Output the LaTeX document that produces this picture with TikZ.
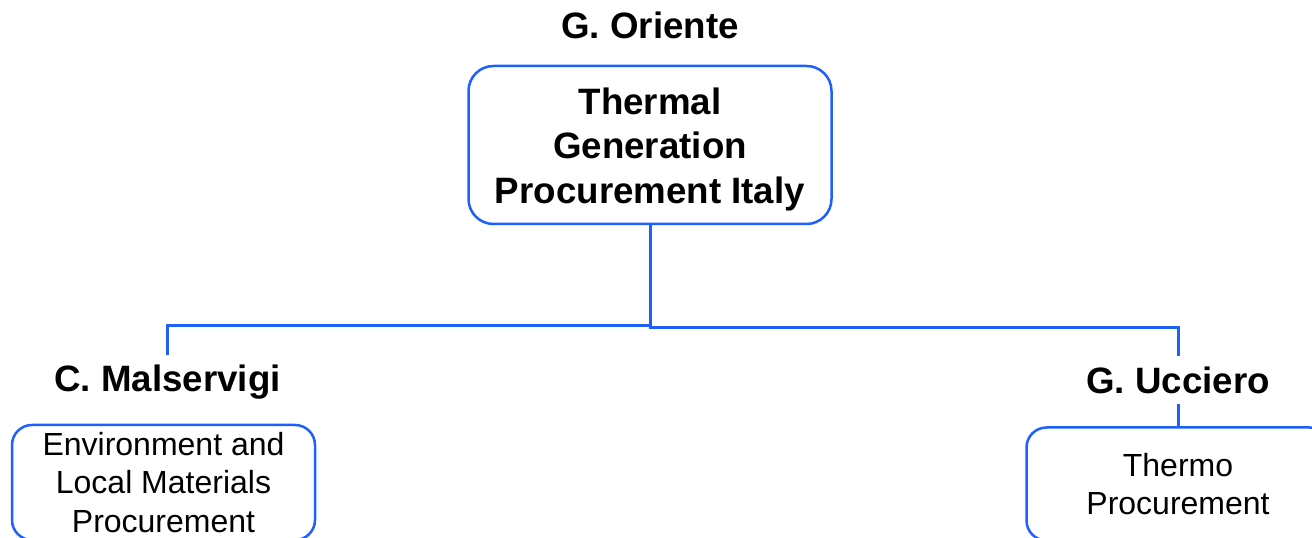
\documentclass[tikz,border=0pt]{standalone}
\usepackage{fontspec}
\setmainfont{Liberation Sans}
\definecolor{orgblue}{HTML}{1F5FFF}
\begin{document}
\begin{tikzpicture}[x=1pt, y=1pt,
    box/.style={draw=orgblue, line width=2.5pt, rounded corners=20pt, align=center, inner sep=0pt},
    person/.style={font=\fontsize{36.7}{44}\selectfont\bfseries, inner xsep=0pt, inner ysep=10pt},
    unit/.style={box, minimum width=303pt, font=\fontsize{32}{38.2}\selectfont},
    link/.style={draw=orgblue, line width=3pt}]
  \clip (0,0) rectangle (1312,538);
  \node (oriente) [person] at (650,513) {G. Oriente};
  \node (head) [box, below of=oriente, node distance=120pt, minimum width=363pt, minimum height=158pt,
    rounded corners=25pt, font=\fontsize{36.7}{44.5}\selectfont\bfseries] {\rule{0pt}{35pt}Thermal\\Generation\\Procurement Italy};
  \node (malservigi) [person] at (167.5,155.5) {C. Malservigi};
  \node (env) [unit, below of=malservigi, node distance=100pt, xshift=-4pt, minimum height=115pt] {Environment and\\Local Materials\\Procurement};
  \node (ucciero) [person] at (1178,158) {G. Ucciero};
  \node (thermo) [unit, below of=ucciero, node distance=104pt, minimum height=113pt] {Thermo\\Procurement};
  \draw [link] (head.south) -- ++(0,-100) -| (malservigi.north);
  \draw [link] (head.south) -- ++(0,-102) -| (ucciero.north);
  \draw [link] (ucciero.south) -- (thermo.north);
\end{tikzpicture}
\end{document}
